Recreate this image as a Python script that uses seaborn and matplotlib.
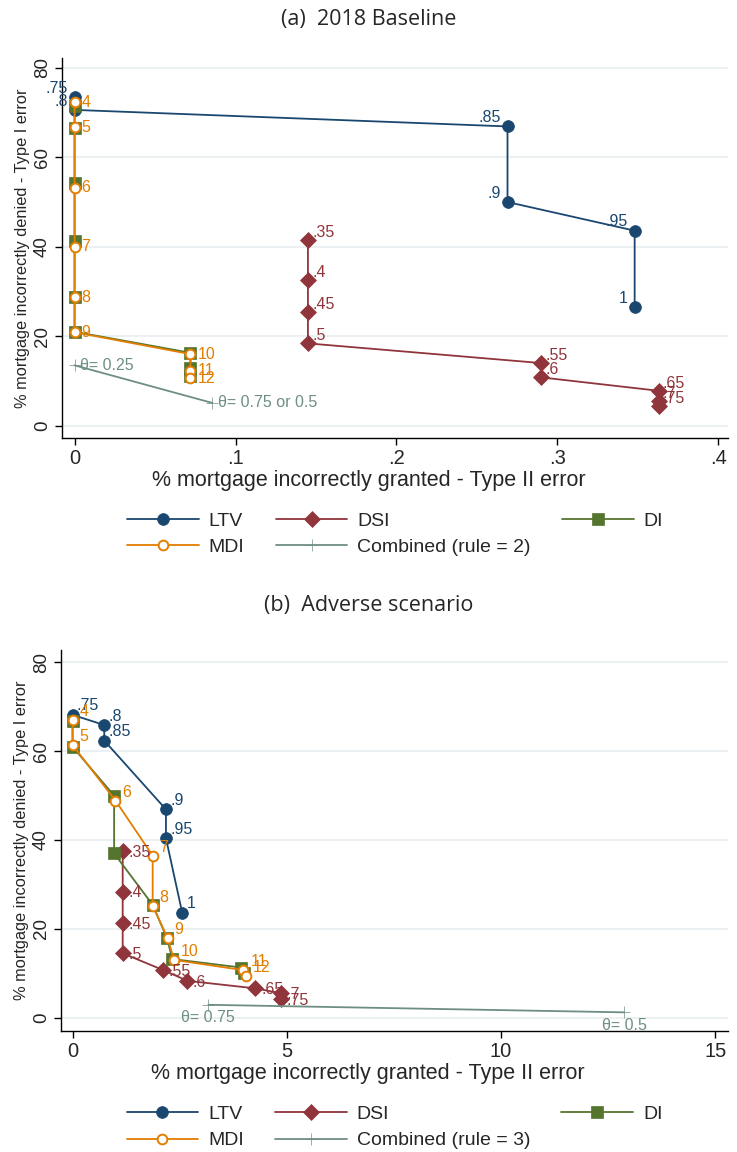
import numpy as np
import pandas as pd
import seaborn as sns
import matplotlib.pyplot as plt

# Panel (a): 2018 baseline
ltv_a_x = [0, 0, 0.269, 0.269, 0.348, 0.348]
ltv_a_y = [73.5, 70.6, 66.9, 50.0, 43.6, 26.5]
ltv_labels = ['.75', '.8', '.85', '.9', '.95', '1']

dsi_a_x = [0.145, 0.145, 0.145, 0.145, 0.290, 0.290, 0.363, 0.363, 0.363]
dsi_a_y = [41.5, 32.6, 25.4, 18.4, 14.0, 10.8, 7.8, 5.6, 4.3]
dsi_labels = ['.35', '.4', '.45', '.5', '.55', '.6', '.65', '.7', '.75']

di_a_x = [0, 0, 0, 0, 0, 0, 0.072, 0.072, 0.072]
di_a_y = [71.5, 66.5, 54.3, 41.3, 28.8, 21.0, 16.3, 12.9, 11.0]

mdi_a_x = [0, 0, 0, 0, 0, 0, 0.072, 0.072, 0.072]
mdi_a_y = [72.3, 66.7, 53.2, 40.0, 28.7, 20.9, 16.0, 12.3, 10.6]
mdi_labels = ['4', '5', '6', '7', '8', '9', '10', '11', '12']

comb_a_x = [0, 0.0855]
comb_a_y = [13.5, 5.1]
comb_a_labels = ['θ= 0.25', 'θ= 0.75 or 0.5']

# Panel (b): adverse scenario
ltv_b_x = [0, 0.74, 0.74, 2.18, 2.18, 2.56]
ltv_b_y = [68.2, 65.9, 62.4, 46.9, 40.4, 23.6]

dsi_b_x = [1.17, 1.17, 1.17, 1.17, 2.12, 2.68, 4.27, 4.86, 4.86]
dsi_b_y = [37.5, 28.4, 21.3, 14.5, 10.7, 8.3, 6.6, 5.5, 4.2]

di_b_x = [0, 0, 0.97, 0.97, 1.87, 2.20, 2.33, 3.93, 4.00]
di_b_y = [66.7, 61.0, 50.0, 37.0, 25.4, 18.0, 13.2, 11.3, 10.0]

mdi_b_x = [0, 0, 1.00, 1.87, 1.87, 2.22, 2.37, 3.99, 4.04]
mdi_b_y = [67.0, 61.4, 48.9, 36.5, 25.2, 17.9, 13.0, 10.7, 9.4]

comb_b_x = [3.17, 12.88]
comb_b_y = [2.9, 1.2]
comb_b_labels = ['θ= 0.75', 'θ= 0.5']

# stata s2color palette
NAVY = '#1a476f'
MAROON = '#90353b'
GREEN = '#55752f'
ORANGE = '#e37e00'
TEAL = '#6e8e84'

sns.set_theme(style='white')
plt.rcParams['font.family'] = ['Liberation Sans', 'DejaVu Sans']

fig = plt.figure(figsize=(7.37, 11.52), dpi=100)


def draw_series(ax, x, y, color, marker, ms, hollow=False):
    df = pd.DataFrame({'x': x, 'y': y})
    sns.lineplot(data=df, x='x', y='y', ax=ax, sort=False, estimator=None,
                 color=color, lw=1.3, marker=marker, markersize=ms,
                 markerfacecolor='white' if hollow else color,
                 markeredgecolor=color, markeredgewidth=1.4 if hollow else 0.5,
                 legend=False)
    return ax.lines[-1]


def label_points(ax, x, y, labels, color, ha, va, dx, dy):
    for xi, yi, lab in zip(x, y, labels):
        ax.annotate(lab, (xi, yi), xytext=(dx, dy), textcoords='offset points',
                    ha=ha, va=va, color=color, fontsize=11.5)


def style_axes(ax, xticks, xticklabels, xlim, ylim):
    ax.set_xlim(xlim)
    ax.set_ylim(ylim)
    ax.set_xticks(xticks)
    ax.set_xticklabels(xticklabels, fontsize=14.5)
    ax.set_yticks([0, 20, 40, 60, 80])
    ax.set_yticklabels(['0', '20', '40', '60', '80'], rotation=90, va='center',
                       fontsize=13.5)
    ax.yaxis.grid(True, color='#e8eff1', lw=1.2)
    ax.xaxis.grid(False)
    for s in ['top', 'right']:
        ax.spines[s].set_visible(False)
    for s in ['left', 'bottom']:
        ax.spines[s].set_color('black')
        ax.spines[s].set_linewidth(1.0)
    ax.tick_params(axis='both', which='major', direction='out', length=5,
                   width=1, color='black', pad=3, bottom=True, left=True)
    ax.set_xlabel('% mortgage incorrectly granted - Type II error', fontsize=15.5, labelpad=2)
    ax.xaxis.set_label_coords(0.46, -0.085)
    ax.set_ylabel('% mortgage incorrectly denied - Type I error', fontsize=11.8, labelpad=3)


def add_legend(ax, handles, rule):
    labels = ['LTV', 'MDI', 'DSI', 'Combined (rule = %d)' % rule, 'DI']
    ax.legend(handles, labels, loc='upper center', bbox_to_anchor=(0.5, -0.175),
              ncol=3, frameon=False, fontsize=14, handlelength=3.7,
              handletextpad=0.5, columnspacing=1.6, labelspacing=0.45,
              borderaxespad=0)


# ---- panel (a)
ax1 = fig.add_axes([62 / 737, 1 - 438 / 1152, 666 / 737, 380 / 1152])
h_ltv = draw_series(ax1, ltv_a_x, ltv_a_y, NAVY, 'o', 8.5)
h_dsi = draw_series(ax1, dsi_a_x, dsi_a_y, MAROON, 'D', 8)
h_di = draw_series(ax1, di_a_x, di_a_y, GREEN, 's', 8)
h_mdi = draw_series(ax1, mdi_a_x, mdi_a_y, ORANGE, 'o', 7, hollow=True)
h_comb = draw_series(ax1, comb_a_x, comb_a_y, TEAL, '+', 8)
label_points(ax1, ltv_a_x, ltv_a_y, ltv_labels, NAVY, 'right', 'bottom', -5, 1)
label_points(ax1, dsi_a_x, dsi_a_y, dsi_labels, MAROON, 'left', 'bottom', 3, 0)
label_points(ax1, mdi_a_x, mdi_a_y, mdi_labels, ORANGE, 'left', 'center', 5, 0)
label_points(ax1, comb_a_x, comb_a_y, comb_a_labels, TEAL, 'left', 'center', 4, 0)
style_axes(ax1, [0, 0.1, 0.2, 0.3, 0.4], ['0', '.1', '.2', '.3', '.4'],
           (-0.0078, 0.406), (-2.75, 82.2))
add_legend(ax1, [h_ltv, h_mdi, h_dsi, h_comb, h_di], 2)
fig.text(0.5, 1 - 19 / 1152, '(a)  2018 Baseline', ha='center', va='center',
         fontsize=15.5, family=['Open Sans', 'DejaVu Sans'])

# ---- panel (b)
ax2 = fig.add_axes([61 / 737, 1 - 1031 / 1152, 667 / 737, 381 / 1152])
h_ltv = draw_series(ax2, ltv_b_x, ltv_b_y, NAVY, 'o', 8.5)
h_dsi = draw_series(ax2, dsi_b_x, dsi_b_y, MAROON, 'D', 8)
h_di = draw_series(ax2, di_b_x, di_b_y, GREEN, 's', 8)
h_mdi = draw_series(ax2, mdi_b_x, mdi_b_y, ORANGE, 'o', 7, hollow=True)
h_comb = draw_series(ax2, comb_b_x, comb_b_y, TEAL, '+', 8)
label_points(ax2, ltv_b_x, ltv_b_y, ltv_labels, NAVY, 'left', 'bottom', 3, 1)
label_points(ax2, dsi_b_x, dsi_b_y, dsi_labels, MAROON, 'left', 'center', 4, -1)
label_points(ax2, mdi_b_x, mdi_b_y, mdi_labels, ORANGE, 'left', 'center', 5, 6)
label_points(ax2, comb_b_x, comb_b_y, comb_b_labels, TEAL, 'center', 'top', 0, -4)
style_axes(ax2, [0, 5, 10, 15], ['0', '5', '10', '15'],
           (-0.27, 15.3), (-3.0, 82.8))
add_legend(ax2, [h_ltv, h_mdi, h_dsi, h_comb, h_di], 3)
fig.text(0.5, 1 - 606 / 1152, '(b)  Adverse scenario', ha='center', va='center',
         fontsize=15.5, family=['Open Sans', 'DejaVu Sans'])

fig.savefig('out.png', dpi=100)
